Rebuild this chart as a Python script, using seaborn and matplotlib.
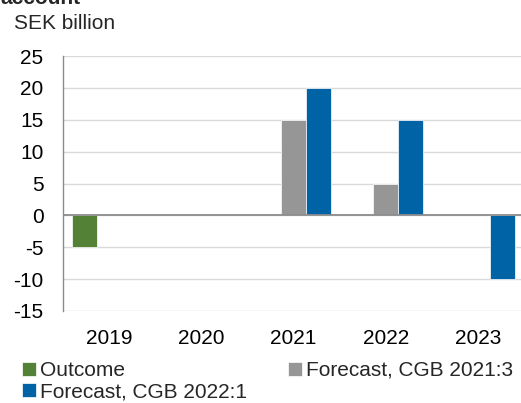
import matplotlib
matplotlib.use("Agg")
import matplotlib.pyplot as plt
import seaborn as sns
import pandas as pd
import numpy as np

years = ["2019", "2020", "2021", "2022", "2023"]
outcome = [-5, np.nan, np.nan, np.nan, np.nan]
forecast_2021_3 = [np.nan, np.nan, 15, 5, np.nan]
forecast_2022_1 = [np.nan, np.nan, 20, 15, -10]
series_names = ["Outcome", "Forecast, CGB 2021:3", "Forecast, CGB 2022:1"]
colors = ["#538135", "#969696", "#0063A6"]
yticks = [-15, -10, -5, 0, 5, 10, 15, 20, 25]

sns.set_theme(style="white")
plt.rcParams["font.family"] = ["Liberation Sans", "DejaVu Sans"]

rows = []
for name, vals in zip(series_names, [outcome, forecast_2021_3, forecast_2022_1]):
    for y, v in zip(years, vals):
        rows.append({"year": y, "value": v, "series": name})
df = pd.DataFrame(rows)

fig = plt.figure(figsize=(5.21, 4.03), dpi=100)
ax = fig.add_axes([63 / 521, 1 - 311 / 403, (524 - 63) / 521, (311 - 56) / 403])

sns.barplot(data=df, x="year", y="value", hue="series", order=years,
            hue_order=series_names, palette=colors, width=0.81, dodge=True,
            saturation=1, ax=ax, edgecolor="white", linewidth=0.5, errorbar=None)

ax.set_xlim(-0.5, 4.5)
ax.set_ylim(-15, 25)
ax.set_yticks(yticks)
ax.set_yticklabels([str(t) for t in yticks])
ax.set_xlabel("")
ax.set_ylabel("")
ax.yaxis.grid(True, color="#d9d9d9", linewidth=1)
ax.set_axisbelow(True)
ax.axhline(0, color="#8c8c8c", linewidth=1.3, zorder=3)
for s in ["top", "right", "bottom"]:
    ax.spines[s].set_visible(False)
ax.spines["left"].set_color("#8c8c8c")
ax.spines["left"].set_linewidth(1.0)
ax.tick_params(axis="y", length=0, pad=14, labelsize=15, colors="black")
ax.tick_params(axis="x", length=0, pad=13, labelsize=15, colors="black")

handles, labels = ax.get_legend_handles_labels()
if ax.get_legend() is not None:
    ax.get_legend().remove()
hmap = dict(zip(labels, handles))
order = ["Outcome", "Forecast, CGB 2022:1", "Forecast, CGB 2021:3"]
fig.legend([hmap[o] for o in order], order, ncol=2, loc="upper left",
           bbox_to_anchor=(22 / 521, 1 - 361 / 403), frameon=False,
           fontsize=15, handlelength=0.65, handleheight=0.65,
           handletextpad=0.2, columnspacing=2.0, labelspacing=0.1,
           borderpad=0, borderaxespad=0)

fig.text(0, 1 - 4 / 403, "account", fontsize=15, fontweight="bold", va="baseline", ha="left")
fig.text(14 / 521, 1 - 29 / 403, "SEK billion", fontsize=15, va="baseline", ha="left")

fig.savefig("out.png", dpi=100)
